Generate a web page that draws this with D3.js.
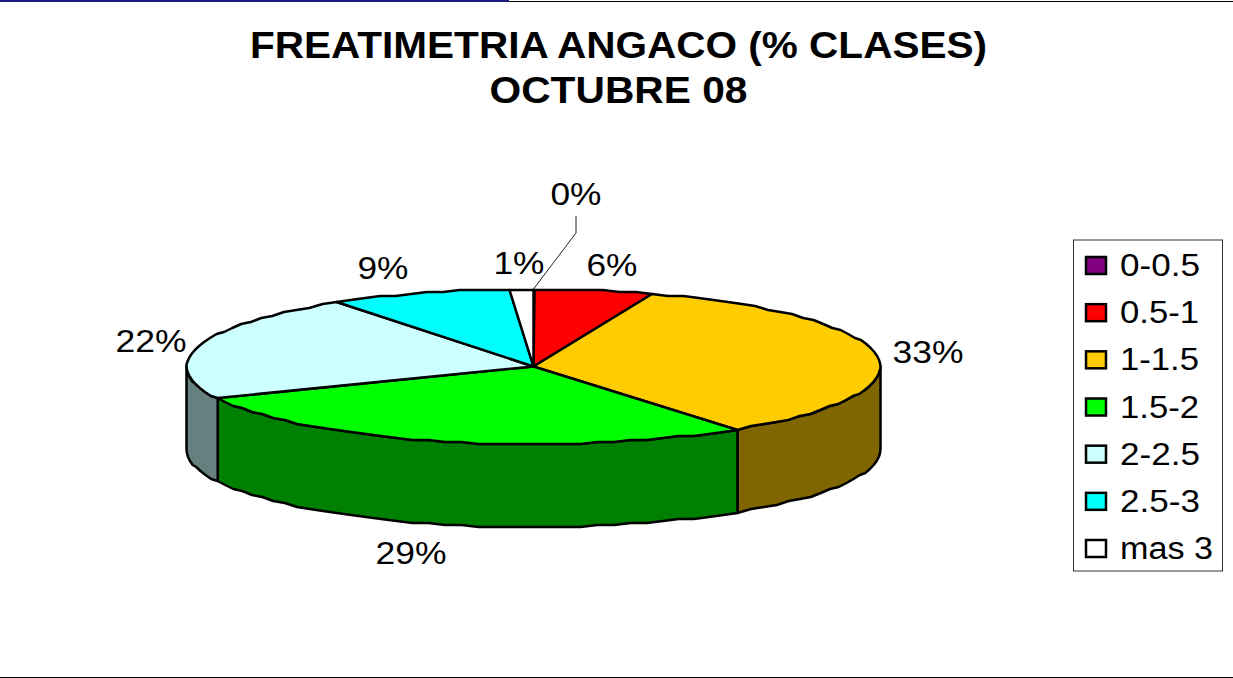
<!DOCTYPE html>
<html>
<head>
<meta charset="utf-8">
<script src="https://cdn.jsdelivr.net/npm/d3@7"></script>
<style>
    html, body { margin: 0; padding: 0; background: #fff; overflow: hidden; }
    svg { display: block; }
    text { font-family: "Liberation Sans", Arial, sans-serif; fill: #000; }
</style>
</head>
<body>
<div id="chart"></div>
<script>
// Values (share of the drawn ellipse, in %)
const categories = ['0-0.5', '0.5-1', '1-1.5', '1.5-2', '2-2.5', '2.5-3', 'mas 3'];
const shares = [0.05, 5.5, 34.45, 28.2, 22.2, 8.5, 1.1];
const percentLabels = ['0%', '6%', '33%', '29%', '22%', '9%', '1%'];
const colors = ['#800080', '#FF0000', '#FFCC00', '#00FF00', '#CCFFFF', '#00FFFF', '#FFFFFF'];
const titleLines = ['FREATIMETRIA ANGACO (% CLASES)', 'OCTUBRE 08'];

function createChart() {
    const width = 1233, height = 678;
    const depth = 83;

    const svg = d3.select('#chart')
        .append('svg')
        .attr('width', width)
        .attr('height', height);

    // Frame lines of the slide
    svg.append('line').attr('x1', 0).attr('x2', width).attr('y1', 1.5).attr('y2', 1.5)
        .attr('stroke', '#000').attr('stroke-width', 1);
    svg.append('rect').attr('x', 0).attr('y', 0).attr('width', 509).attr('height', 2).attr('fill', '#1c1c80');
    svg.append('line').attr('x1', 0).attr('x2', width).attr('y1', 677.5).attr('y2', 677.5)
        .attr('stroke', '#000').attr('stroke-width', 1);

    // Title
    svg.selectAll('.title')
        .data(titleLines)
        .enter()
        .append('text')
        .attr('class', 'title')
        .attr('x', 618.5)
        .attr('y', (d, i) => 58 + i * 45)
        .attr('text-anchor', 'middle')
        .style('font-size', '36px')
        .style('font-weight', 'bold')
        .attr('textLength', (d, i) => i === 0 ? 737 : 258)
        .attr('lengthAdjust', 'spacingAndGlyphs')
        .text(d => d);

    // Ellipse projection of the unit circle
    const xScale = d3.scaleLinear().domain([-1, 1]).range([186.5, 880.5]);
    const yScale = d3.scaleLinear().domain([-1, 1]).range([289, 444]);
    const px = a => xScale(Math.sin(a));
    const py = a => yScale(-Math.cos(a));

    const pie = d3.pie().sort(null).value(d => d.share);
    const slices = pie(categories.map((c, i) => ({ cat: c, share: shares[i], color: colors[i], label: percentLabels[i] })));

    // Points along an arc, snapped to a coarse grid for the stepped edge of the original
    const arcPoints = (a0, a1, dy) => {
        const n = Math.max(1, Math.ceil((a1 - a0) / 0.05));
        return d3.range(n + 1).map(i => {
            const a = a0 + (a1 - a0) * i / n;
            return [px(a), Math.round(py(a) / 2) * 2 + dy];
        });
    };
    const line = d3.line();

    // Side wall, only the part of the rim facing the viewer
    const halve = c => {
        const r = d3.rgb(c);
        return d3.rgb(r.r * 0.5, r.g * 0.5, r.b * 0.5).formatHex();
    };
    const wall = svg.append('g');
    slices.forEach(s => {
        const a0 = Math.max(s.startAngle, Math.PI / 2);
        const a1 = Math.min(s.endAngle, Math.PI * 1.5);
        if (a1 <= a0) return;
        const pts = arcPoints(a0, a1, 0).concat(arcPoints(a0, a1, depth).reverse());
        wall.append('path')
            .attr('d', line(pts) + 'Z')
            .attr('fill', halve(s.data.color))
            .attr('stroke', '#000')
            .attr('stroke-width', 2.5)
            .attr('stroke-linejoin', 'round');
    });

    // Top of the pie
    const cx = xScale(0), cy = yScale(0);
    svg.append('g')
        .selectAll('path')
        .data(slices)
        .enter()
        .append('path')
        .attr('d', d => line([[cx, cy]].concat(arcPoints(d.startAngle, d.endAngle, 0))) + 'Z')
        .attr('fill', d => d.data.color)
        .attr('stroke', '#000')
        .attr('stroke-width', 2.5)
        .attr('stroke-linejoin', 'round');

    // Leader line for the 0% label
    const a0 = slices[0];
    svg.append('path')
        .attr('d', line([[576, 216], [576, 233], [px(a0.startAngle), py(a0.startAngle)]]))
        .attr('fill', 'none')
        .attr('stroke', '#222')
        .attr('stroke-width', 1);

    // Percent labels
    const labelPos = [[576, 205], [612, 276], [928, 363], [411, 564], [151, 352], [383, 279], [519, 274]];
    svg.append('g')
        .selectAll('text')
        .data(slices)
        .enter()
        .append('text')
        .attr('x', (d, i) => labelPos[i][0])
        .attr('y', (d, i) => labelPos[i][1])
        .attr('text-anchor', 'middle')
        .style('font-size', '31px')
        .attr('textLength', d => d.data.label.length === 3 ? 71 : 51)
        .attr('lengthAdjust', 'spacingAndGlyphs')
        .text(d => d.data.label);

    // Legend
    const legend = svg.append('g');
    legend.append('rect')
        .attr('x', 1073.5).attr('y', 240)
        .attr('width', 149).attr('height', 331)
        .attr('fill', '#fff')
        .attr('stroke', '#333')
        .attr('stroke-width', 1);

    const rowScale = d3.scalePoint().domain(categories).range([265, 548]);
    const legendWidths = [80, 79, 79, 79, 80, 80, 93];
    categories.forEach((category, i) => {
        const row = legend.append('g')
            .attr('transform', `translate(0, ${rowScale(category)})`);
        row.append('rect')
            .attr('x', 1086).attr('y', -8)
            .attr('width', 20).attr('height', 17)
            .attr('fill', colors[i])
            .attr('stroke', '#000')
            .attr('stroke-width', 2.5);
        row.append('text')
            .attr('x', 1120)
            .attr('y', 11)
            .style('font-size', '31px')
            .attr('textLength', legendWidths[i])
            .attr('lengthAdjust', 'spacingAndGlyphs')
            .text(category);
    });
}

createChart();
</script>
</body>
</html>
